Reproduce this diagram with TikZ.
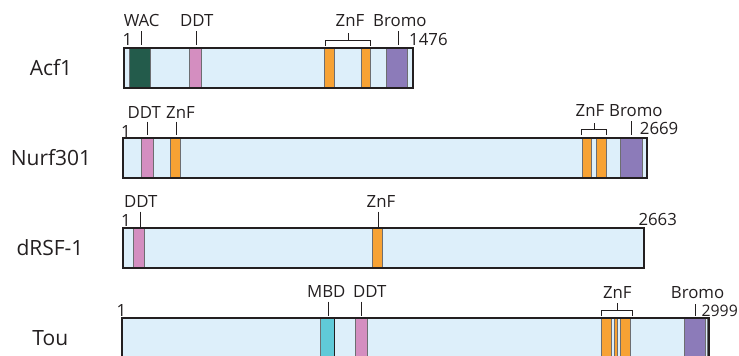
\documentclass[tikz,border=0pt]{standalone}
\usepackage{fontspec}
\setmainfont{Open Sans}
\definecolor{barfill}{HTML}{DDEFFA}
\definecolor{barline}{HTML}{231F20}
\definecolor{domline}{HTML}{6D6E71}
\definecolor{wac}{HTML}{235B4B}
\definecolor{ddt}{HTML}{D48EC0}
\definecolor{znf}{HTML}{F7A234}
\definecolor{bromo}{HTML}{8C7BB9}
\definecolor{mbd}{HTML}{60CAD8}
\newcommand\labfont{\fontsize{16.8}{16.8}\selectfont}
\newcommand\protfont{\fontsize{21}{21}\selectfont}
\tikzset{
  barout/.style={draw=barline, line width=1.8pt},
  domedge/.style={draw=domline, line width=0.9pt},
  tickline/.style={draw=barline, line width=1pt},
  lab/.style={inner sep=0pt, font=\labfont, text=barline},
  protname/.style={inner sep=0pt, font=\protfont, text=barline, anchor=base},
}
\begin{document}
\begin{tikzpicture}[x=1pt,y=-1pt]
\useasboundingbox (0,0) rectangle (739,356);
\clip (0,0) rectangle (739,356);

% ---------------- Acf1 ----------------
\node[protname] (acf) at (51,75) {Acf1};
\fill[barfill] (124,48) rectangle (413,88);
\foreach \a/\b/\c in {129.3/150.7/wac, 189/201.3/ddt, 324.3/334.3/znf, 361/370.3/znf, 386/407.7/bromo}{
  \fill[\c] (\a,48) rectangle (\b,88);
  \draw[domedge] (\a,48) -- (\a,88) (\b,48) -- (\b,88);
}
\draw[barout] (124,48) rectangle (413,88);
\draw[tickline] (141,31) -- (141,45) (196,31) -- (196,45) (398.7,31) -- (398.7,45);
\draw[tickline] (325.7,46) -- (325.7,40) -- (370,40) -- (370,46) (348,40) -- (348,33);
\node[lab,anchor=base] (acfwac) at (141.7,27) {WAC};
\node[lab,anchor=base] (acfddt) at (196.7,27) {DDT};
\node[lab,anchor=base] (acfznf) at (350,27) {ZnF};
\node[lab,anchor=base west] (acfbromo) at (373,27) {Bromo};
\node[lab,anchor=base west] (acfstart) at (122.3,45) {1};
\node[lab,anchor=base west] (acfend) at (409,45) {1476};

% ---------------- Nurf301 ----------------
\node[protname] (nurf) at (51,165.7) {Nurf301};
\fill[barfill] (122.7,138.3) rectangle (646.7,178.3);
\foreach \a/\b/\c in {141.7/153.7/ddt, 170.3/180/znf, 582/591.3/znf, 596.3/606/znf, 620.7/642.3/bromo}{
  \fill[\c] (\a,138.3) rectangle (\b,178.3);
  \draw[domedge] (\a,138.3) -- (\a,178.3) (\b,138.3) -- (\b,178.3);
}
\draw[barout] (122.7,138.3) rectangle (646.7,178.3);
\draw[tickline] (147.7,121.7) -- (147.7,135) (176,121.7) -- (176,135) (631.7,121) -- (631.7,135);
\draw[tickline] (581.3,135) -- (581.3,129.3) -- (606.7,129.3) -- (606.7,135) (594,129.3) -- (594,123.3);
\node[lab,anchor=base] (nurfddt) at (144.3,118.3) {DDT};
\node[lab,anchor=base] (nurfznfa) at (180.5,118.3) {ZnF};
\node[lab,anchor=base] (nurfznfb) at (590,116.7) {ZnF};
\node[lab,anchor=base west] (nurfbromo) at (609,116.7) {Bromo};
\node[lab,anchor=base west] (nurfstart) at (121,137.7) {1};
\node[lab,anchor=base west] (nurfend) at (639.7,134.3) {2669};

% ---------------- dRSF-1 ----------------
\node[protname] (drsf) at (50,255.7) {dRSF-1};
\fill[barfill] (122.7,227.7) rectangle (644.3,267.7);
\foreach \a/\b/\c in {133.3/144.3/ddt, 372.7/382.3/znf}{
  \fill[\c] (\a,227.7) rectangle (\b,267.7);
  \draw[domedge] (\a,227.7) -- (\a,267.7) (\b,227.7) -- (\b,267.7);
}
\draw[barout] (122.7,227.7) rectangle (644.3,267.7);
\draw[tickline] (140,211.7) -- (140,226.7) (378.3,211.7) -- (378.3,226.7);
\node[lab,anchor=base] (drsfddt) at (140.7,207.7) {DDT};
\node[lab,anchor=base] (drsfznf) at (381,207.7) {ZnF};
\node[lab,anchor=base west] (drsfstart) at (121,226) {1};
\node[lab,anchor=base west] (drsfend) at (638.3,225) {2663};

% ---------------- Tou ----------------
\node[protname] (tou) at (50.3,345.7) {Tou};
\fill[barfill] (121.7,317.7) rectangle (709,370);
\foreach \a/\b/\c in {320.7/334.3/mbd, 355.7/367.7/ddt, 601.7/611.7/znf, 614/617/znf, 620/630.7/znf, 684.3/705.7/bromo}{
  \fill[\c] (\a,317.7) rectangle (\b,370);
  \draw[domedge] (\a,317.7) -- (\a,370) (\b,317.7) -- (\b,370);
}
\draw[domedge] (707,317.7) -- (707,370);
\draw[barline, line width=0.9pt] (334.3,317.7) -- (334.3,370);
\draw[barout] (121.7,317.7) rectangle (709,370);
\draw[tickline] (328.3,301.7) -- (328.3,315.7) (361.7,301.7) -- (361.7,315.7) (695,304.3) -- (695,315.7);
\draw[tickline] (601.7,316) -- (601.7,310) -- (632.3,310) -- (632.3,316) (617,310) -- (617,303.3);
\node[lab,anchor=base] (toumbd) at (326.3,297.7) {MBD};
\node[lab,anchor=base] (touddt) at (369.8,297.7) {DDT};
\node[lab,anchor=base] (touznf) at (617.3,298.3) {ZnF};
\node[lab,anchor=base west] (toubromo) at (670.7,298.3) {Bromo};
\node[lab,anchor=base west] (toustart) at (116.5,316.7) {1};
\node[lab,anchor=base east, font=\fontsize{15.8}{15.8}\selectfont] (touend) at (738,316) {2999};
\end{tikzpicture}
\end{document}
